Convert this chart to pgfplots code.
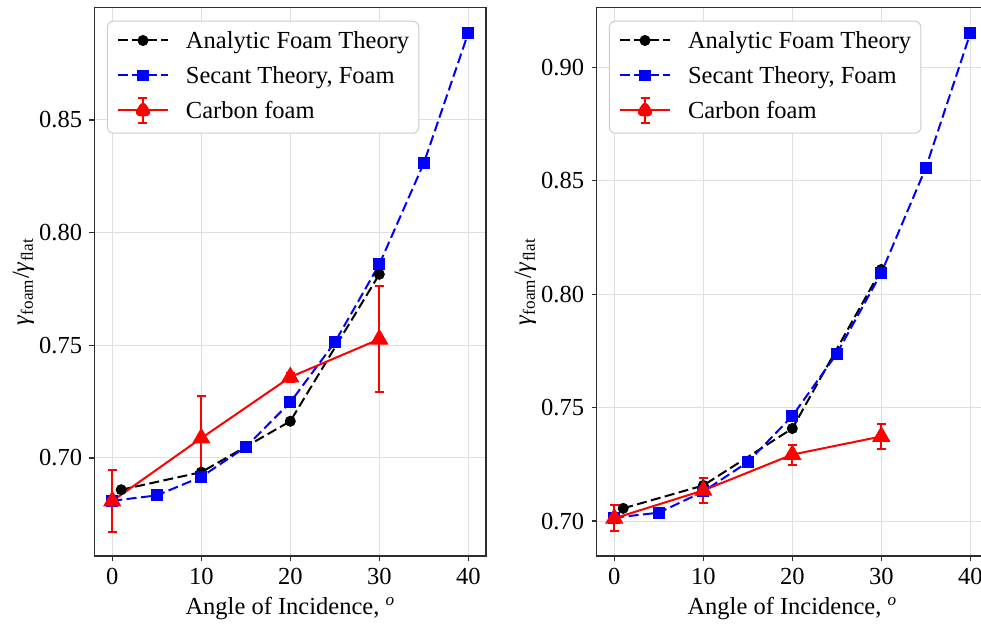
\documentclass[border=0pt]{standalone}
\usepackage{fontspec}
\setmainfont{Liberation Serif}
\usepackage{pgfplots}
\pgfplotsset{compat=1.18}

\definecolor{gridc}{RGB}{224,224,224}
\definecolor{framec}{RGB}{45,45,45}
\definecolor{legc}{RGB}{204,204,204}
\newcommand{\fs}{\fontsize{12.25pt}{14pt}\selectfont}

\pgfplotsset{
  /pgf/number format/assume math mode=true,
  myaxis/.style={
    scale only axis, width=195.8pt, height=274.25pt,
    xmin=-2, xmax=42, xtick={0,10,20,30,40},
    grid=major, major grid style={gridc, line width=0.5pt},
    axis line style={framec, line width=0.6pt},
    tick align=outside, tick pos=left, major tick length=2.5pt,
    every tick/.style={framec, line width=0.6pt},
    tick label style={font=\fs},
    y tick label style={/pgf/number format/.cd, fixed, fixed zerofill, precision=2, /tikz/.cd},
    yticklabel style={anchor=east, inner xsep=0pt, xshift=-3.5pt},
    every axis x label/.style={at={(rel axis cs:0.5,0)}, yshift=-29.3pt, anchor=base, font=\fs},
    every axis y label/.style={at={(rel axis cs:0,0.5)}, xshift=-35.5pt, rotate=90, anchor=center, font=\fs},
    xlabel={Angle of Incidence, \textsuperscript{\textit{o}}},
    ylabel={\textit{γ}\textsubscript{foam}/\textit{γ}\textsubscript{flat}},
    legend cell align=left,
    legend image code/.code={\draw[mark repeat=2,mark phase=2,##1,yshift=0.85pt] plot coordinates {(0pt,0pt) (12.5pt,0pt) (25pt,0pt)};},
    legend style={at={(0,1)}, anchor=north west, xshift=6.2pt, yshift=-6.6pt,
      draw=legc, line width=0.5pt, rounded corners=3pt, fill=white,
      inner xsep=4.8pt, inner ysep=2pt, row sep=0.5pt,
      font=\fs,
      nodes={inner xsep=0pt, inner ysep=2pt, text height=9.8pt, text depth=3.2pt},
      /tikz/every odd column/.append style={column sep=8.5pt}},
  },
  analytic/.style={black, dashed, line width=1pt, dash pattern=on 5pt off 2.2pt,
    mark=*, mark size=2.5pt, mark options={solid, fill=black, line width=0.5pt}},
  secant/.style={blue, line width=1pt, dash pattern=on 5pt off 2.2pt,
    mark=square*, mark size=2.7pt, mark options={solid, fill=blue, line width=0.5pt}},
  carbon/.style={red, solid, line width=1pt,
    mark=triangle*, mark size=4.8pt, mark options={solid, fill=red, line width=0.5pt},
    error bars/.cd, y dir=both, y explicit,
    error bar style={red, line width=1pt, solid},
    error mark options={rotate=90, mark size=2.25pt, line width=1pt, red},
    /pgfplots/.cd},
  carbonlegend/.style={legend image code/.code={
    \begin{scope}[yshift=0.85pt]
    \draw[red, line width=1pt] (0pt,0pt) -- (25pt,0pt);
    \draw[red, line width=1pt] (12.5pt,-6.25pt) -- (12.5pt,6.25pt);
    \draw[red, line width=1pt] (10.25pt,-6.25pt) -- (14.75pt,-6.25pt);
    \draw[red, line width=1pt] (10.25pt,6.25pt) -- (14.75pt,6.25pt);
    \fill[red] (12.5pt,0pt) +(90:4.8pt) -- +(210:4.8pt) -- +(330:4.8pt) -- cycle;
    \end{scope}}},
}

\begin{document}
\begin{tikzpicture}
\begin{axis}[myaxis, at={(47.25pt,35pt)}, anchor=south west,
  ymin=0.6565, ymax=0.8999, ytick={0.70,0.75,0.80,0.85}]
\addplot[analytic] coordinates {(1,0.6859) (10,0.6937) (20,0.7163) (30,0.7815)};
\addlegendentry{Analytic Foam Theory}
\addplot[secant] coordinates {(0,0.6810) (5,0.6834) (10,0.6916) (15,0.7049) (20,0.7247) (25,0.7513) (30,0.7859) (35,0.8308) (40,0.8886)};
\addlegendentry{Secant Theory, Foam}
\addplot[carbonlegend, carbon] table[x=x, y=y, y error=e] {
x y e
0 0.6809 0.01355
10 0.7088 0.0189
20 0.7359 0.0020
30 0.7527 0.0235
};
\addlegendentry{Carbon foam}
\end{axis}

\begin{axis}[myaxis, at={(298.25pt,35pt)}, anchor=south west,
  ymin=0.6846, ymax=0.9264, ytick={0.70,0.75,0.80,0.85,0.90}]
\addplot[analytic] coordinates {(1,0.7056) (10,0.7157) (20,0.7408) (30,0.8109)};
\addlegendentry{Analytic Foam Theory}
\addplot[secant] coordinates {(0,0.7015) (5,0.7037) (10,0.7130) (15,0.7260) (20,0.7463) (25,0.7738) (30,0.8094) (35,0.8557) (40,0.9150)};
\addlegendentry{Secant Theory, Foam}
\addplot[carbonlegend, carbon] table[x=x, y=y, y error=e] {
x y e
0 0.7012 0.0057
10 0.7135 0.0057
20 0.7293 0.0044
30 0.7373 0.0055
};
\addlegendentry{Carbon foam}
\end{axis}
\pgfresetboundingbox
\path[use as bounding box] (0,0) rectangle (490.5pt,313pt);
\end{tikzpicture}
\end{document}
